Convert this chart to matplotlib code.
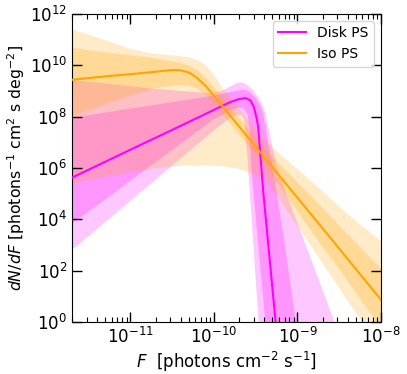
import numpy as np
import matplotlib.pyplot as plt
from matplotlib.ticker import NullLocator

# all values are log10
# Iso PS: median and bands on one flux grid
iso_logF = [-11.7, -11.5, -11.25, -11.0, -10.75, -10.5, -10.4, -10.3, -10.2, -10.1, -10.0,
            -9.9, -9.75, -9.6, -9.5, -9.4, -9.25, -9.0, -8.75, -8.5, -8.25, -8.0]
iso_med = [9.43, 9.50, 9.58, 9.65, 9.73, 9.81, 9.80, 9.72, 9.50, 9.20, 8.81,
           8.41, 7.82, 7.22, 6.83, 6.43, 5.83, 4.84, 3.85, 2.86, 1.86, 0.87]
iso_in_hi = [10.70, 10.60, 10.50, 10.40, 10.30, 10.16, 10.10, 10.00, 9.82, 9.52, 9.15,
             8.75, 8.15, 7.55, 7.13, 6.77, 6.28, 5.44, 4.60, 3.76, 2.91, 2.07]
iso_in_lo = [8.06, 8.28, 8.56, 8.84, 9.10, 9.22, 9.24, 9.22, 9.10, 8.85, 8.50,
             8.10, 7.50, 6.90, 6.50, 6.10, 5.45, 4.30, 3.15, 2.05, 0.90, -0.20]
iso_out_hi = [11.41, 11.20, 10.93, 10.65, 10.47, 10.40, 10.37, 10.32, 10.22, 10.00, 9.62,
              9.10, 8.50, 7.90, 7.50, 7.15, 6.65, 5.95, 5.25, 4.50, 3.80, 3.15]
iso_out_lo = [5.40, 5.55, 5.70, 5.85, 5.98, 6.08, 6.10, 6.10, 6.12, 6.12, 6.10,
              6.08, 6.02, 5.85, 5.72, 5.60, 4.92, 3.73, 2.52, 1.31, 0.10, -1.10]

# Disk PS: edges read separately (steep cutoff)
disk_logF = [-11.7, -11.0, -10.5, -10.0, -9.8, -9.7, -9.62, -9.56, -9.52, -9.49, -9.47,
             -9.41, -9.34, -9.27, -9.24]
disk_med = [5.62, 6.71, 7.48, 8.26, 8.57, 8.68, 8.72, 8.62, 8.35, 7.95, 7.60,
            5.10, 2.70, 0.30, -0.70]

disk_in_hi_F = [-11.7, -11.0, -10.5, -10.0, -9.8, -9.67, -9.6, -9.55, -9.5, -9.45, -9.41,
                -9.37, -9.33, -9.29, -9.15, -9.0]
disk_in_hi = [7.95, 8.31, 8.56, 8.82, 8.95, 9.04, 9.02, 8.90, 8.72, 8.45, 8.10,
              7.30, 6.55, 5.90, 2.95, -0.40]
disk_in_lo_F = [-11.7, -11.0, -10.5, -10.0, -9.8, -9.7, -9.64, -9.6, -9.575, -9.55, -9.47,
                -9.39, -9.36]
disk_in_lo = [3.82, 5.50, 6.70, 7.90, 8.25, 8.36, 8.30, 8.10, 7.60, 5.90, 3.05,
              0.20, -0.90]

disk_out_hi_F = [-11.7, -11.25, -10.78, -10.3, -10.03, -9.9, -9.8, -9.71, -9.65, -9.6, -9.53,
                 -9.47, -9.42, -9.38, -9.32, -9.24, -9.0, -8.75, -8.5]
disk_out_hi = [9.43, 9.27, 9.10, 8.97, 8.91, 9.00, 9.18, 9.33, 9.32, 9.22, 9.02,
               8.75, 8.45, 8.07, 7.10, 5.92, 3.85, 1.69, -0.50]
disk_out_lo_F = [-11.7, -11.0, -10.5, -10.0, -9.85, -9.75, -9.68, -9.64, -9.62, -9.6, -9.55,
                 -9.47, -9.44]
disk_out_lo = [2.80, 4.72, 6.09, 7.46, 7.85, 8.03, 8.08, 7.95, 7.30, 6.50, 4.10,
               0.20, -1.20]

disk_color = 'magenta'
iso_color = 'orange'


def p10(v):
    return 10.0 ** np.asarray(v)


def band(ax, xh, yh, xl, yl, color, alpha):
    x = np.concatenate([xh, xl[::-1]])
    y = np.concatenate([yh, yl[::-1]])
    ax.fill(p10(x), p10(y), color=color, alpha=alpha, lw=0)


fig = plt.figure(figsize=(4.07, 3.74), dpi=100)
ax = fig.add_axes([0.177, 0.139, 0.759, 0.824])
ax.set_xscale('log')
ax.set_yscale('log')

# disk bands first, iso drawn on top
band(ax, disk_out_hi_F, disk_out_hi, disk_out_lo_F, disk_out_lo, disk_color, 0.22)
band(ax, disk_in_hi_F, disk_in_hi, disk_in_lo_F, disk_in_lo, disk_color, 0.25)

F = p10(iso_logF)
ax.fill_between(F, p10(iso_out_lo), p10(iso_out_hi), color=iso_color, alpha=0.22, lw=0)
ax.fill_between(F, p10(iso_in_lo), p10(iso_in_hi), color=iso_color, alpha=0.25, lw=0)

ax.plot(p10(disk_logF), p10(disk_med), color=disk_color, lw=1.5, label='Disk PS', zorder=5)
ax.plot(F, p10(iso_med), color=iso_color, lw=1.5, label='Iso PS', zorder=5)

ax.set_xlim(2e-12, 1e-8)
ax.set_ylim(1, 1e12)
ax.set_yticks(p10(np.arange(0, 13, 2)))
ax.yaxis.set_minor_locator(NullLocator())

ax.tick_params(which='both', direction='in', top=True, right=True, labelsize=12)
ax.tick_params(which='major', length=7, width=1)
ax.tick_params(which='minor', length=3.5, width=0.8)

ax.set_xlabel(r'$F$  [photons cm$^{-2}$ s$^{-1}$]', fontsize=12, labelpad=2)
ax.set_ylabel(r'$dN/dF$ [photons$^{-1}$ cm$^2$ s deg$^{-2}$]', fontsize=11.3, labelpad=2)

ax.legend(loc='upper right', fontsize=10)

fig.savefig('out.png', dpi=100)
